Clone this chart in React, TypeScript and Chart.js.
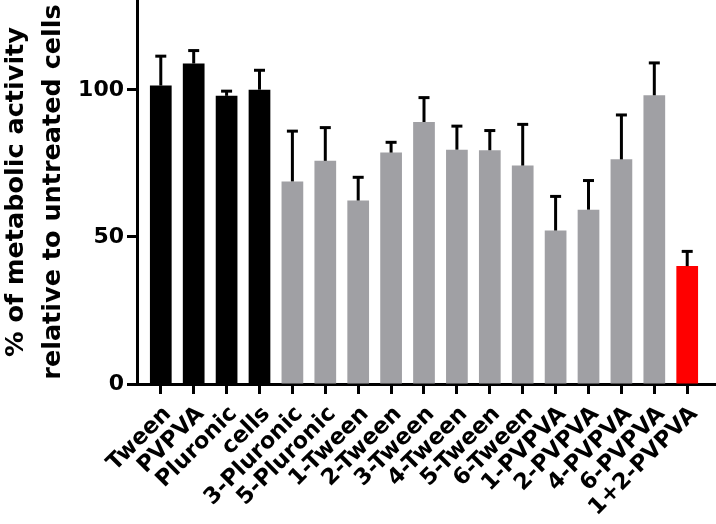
import React, { useEffect, useRef } from "react";
import { Chart, registerables } from "chart.js";

Chart.register(...registerables);

const categories = [
  "Tween", "PVPVA", "Pluronic", "cells", "3-Pluronic", "5-Pluronic",
  "1-Tween", "2-Tween", "3-Tween", "4-Tween", "5-Tween", "6-Tween",
  "1-PVPVA", "2-PVPVA", "4-PVPVA", "6-PVPVA", "1+2-PVPVA",
];
const values = [101.5, 109.0, 98.0, 100.1, 68.9, 75.9, 62.4, 78.7, 89.1, 79.7, 79.5, 74.3, 52.2, 59.3, 76.4, 98.2, 40.1];
const errorsUp = [10.0, 4.4, 1.6, 6.6, 17.1, 11.3, 7.9, 3.5, 8.3, 8.0, 6.7, 14.0, 11.6, 9.9, 15.1, 11.0, 5.0];
const groups = ["control", "control", "control", "control", "test", "test", "test", "test", "test", "test", "test", "test", "test", "test", "test", "test", "best"];
const yTicks = [0, 50, 100];
const yTitle = ["% of metabolic activity", "relative to untreated cells"];

const groupColors: Record<string, string> = {
  control: "#000000",
  test: "#a0a0a4",
  best: "#ff0000",
};

const FONT = "'DejaVu Sans', 'Liberation Sans', Arial, sans-serif";

const errorBarPlugin = {
  id: "errorBars",
  afterDatasetsDraw(chart: any) {
    const { ctx, scales } = chart;
    const xs = scales.x;
    const ys = scales.y;
    ctx.save();
    ctx.strokeStyle = "#000";
    ctx.lineWidth = 3;
    ctx.lineCap = "butt";
    values.forEach((v, i) => {
      const x = xs.getPixelForValue(i);
      const yb = ys.getPixelForValue(v);
      const yt = ys.getPixelForValue(v + errorsUp[i]);
      ctx.beginPath();
      ctx.moveTo(x, yb);
      ctx.lineTo(x, yt);
      ctx.stroke();
      ctx.beginPath();
      ctx.moveTo(x - 5.5, yt);
      ctx.lineTo(x + 5.5, yt);
      ctx.stroke();
    });
    ctx.restore();
  },
};

function zeroPad(scale: any) {
  scale.paddingLeft = 0;
  scale.paddingRight = 0;
  scale.paddingTop = 0;
  scale.paddingBottom = 0;
}

export default function App() {
  const ref = useRef<HTMLCanvasElement>(null);
  useEffect(() => {
    if (!ref.current) return;
    const chart = new Chart(ref.current, {
      type: "bar",
      data: {
        datasets: [
          {
            data: values.map((v, i) => ({ x: i, y: v })),
            backgroundColor: groups.map((g) => groupColors[g]),
            borderWidth: 0,
            categoryPercentage: 1,
            barPercentage: 0.66,
          },
        ],
      },
      options: {
        animation: false,
        responsive: false,
        layout: { padding: 0 },
        plugins: { legend: { display: false }, tooltip: { enabled: false } },
        scales: {
          x: {
            type: "linear",
            offset: false,
            min: -0.723,
            max: 16.875,
            afterBuildTicks(scale: any) {
              scale.ticks = categories.map((_, i) => ({ value: i }));
            },
            afterFit(scale: any) {
              scale.height = 140;
              zeroPad(scale);
            },
            grid: { offset: false, drawOnChartArea: false, tickLength: 10, tickWidth: 3, color: "#000" },
            border: { display: true, width: 3, color: "#000" },
            ticks: {
              autoSkip: false,
              minRotation: 45,
              maxRotation: 45,
              padding: 7,
              labelOffset: 7,
              color: "#000",
              font: { family: FONT, size: 22.5, weight: "bold" },
              callback: (v: any) => categories[v] ?? "",
            },
          },
          y: {
            min: 0,
            max: 130.6,
            afterBuildTicks(scale: any) {
              scale.ticks = yTicks.map((v) => ({ value: v }));
            },
            afterFit(scale: any) {
              scale.width = 137;
              zeroPad(scale);
            },
            grid: { drawOnChartArea: false, tickLength: 10, tickWidth: 3, color: "#000" },
            border: { display: true, width: 3, color: "#000" },
            ticks: {
              padding: 3,
              color: "#000",
              font: { family: FONT, size: 22, weight: "bold" },
            },
            title: {
              display: true,
              text: yTitle,
              color: "#000",
              padding: { top: -2, bottom: 0 },
              font: { family: FONT, size: 25.5, weight: "bold", lineHeight: 1.45 },
            },
          },
        },
      },
      plugins: [errorBarPlugin],
    });
    return () => chart.destroy();
  }, []);
  return (
    <div style={{ position: "absolute", left: 0, top: 0, width: 716, height: 524, background: "#fff" }}>
      <canvas ref={ref} width={716} height={524} />
    </div>
  );
}
